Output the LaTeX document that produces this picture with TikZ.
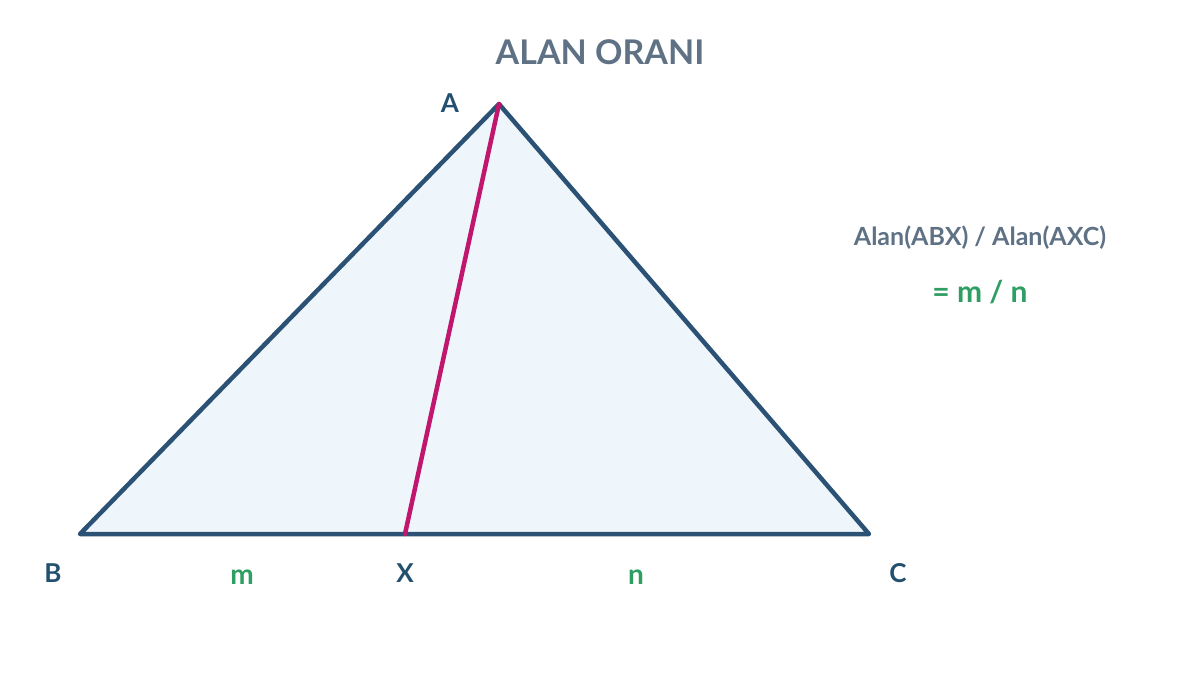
\documentclass[tikz,border=0pt]{standalone}
\usepackage{fontspec}
\setmainfont{Lato}
\definecolor{edge}{HTML}{2B5275}
\definecolor{fillc}{HTML}{EEF6FC}
\definecolor{med}{HTML}{C0166E}
\definecolor{lbl}{HTML}{24506F}
\definecolor{ttl}{HTML}{5F7185}
\definecolor{grn}{HTML}{2E9E63}
\tikzset{
  vlabel/.style={font=\fontsize{26}{30}\selectfont\bfseries, text=lbl},
  seglabel/.style={font=\fontsize{28}{32}\selectfont\bfseries, text=grn},
}
\begin{document}
\begin{tikzpicture}[x=1pt,y=-1pt]
\useasboundingbox (0,0) rectangle (1200,675);
\coordinate (A) at (499,104);
\coordinate (B) at (80,534);
\coordinate (C) at (869,534);
\coordinate (X) at (405,534);
\filldraw[fill=fillc, draw=edge, line width=4.5pt, line join=round] (A) -- (B) -- (C) -- cycle;
\draw[med, line width=4.5pt, line cap=round] (A) -- (X);
\node[font=\fontsize{34}{40}\selectfont\bfseries, text=ttl] (title) at (600,52) {ALAN ORANI};
\node[vlabel] (la) at (450,103) {A};
\node[vlabel] (lb) at (53,573) {B};
\node[vlabel] (lx) at (405,573) {X};
\node[vlabel] (lc) at (898,573) {C};
\node[seglabel] (lm) at (242,577) {m};
\node[seglabel] (ln) at (636,577) {n};
\node[font=\fontsize{25}{30}\selectfont\bfseries, text=ttl] (ratio) at (980,238) {Alan(ABX) / Alan(AXC)};
\node[font=\fontsize{30}{34}\selectfont\bfseries, text=grn] (eq) at (980,292) {= m / n};
\end{tikzpicture}
\end{document}
